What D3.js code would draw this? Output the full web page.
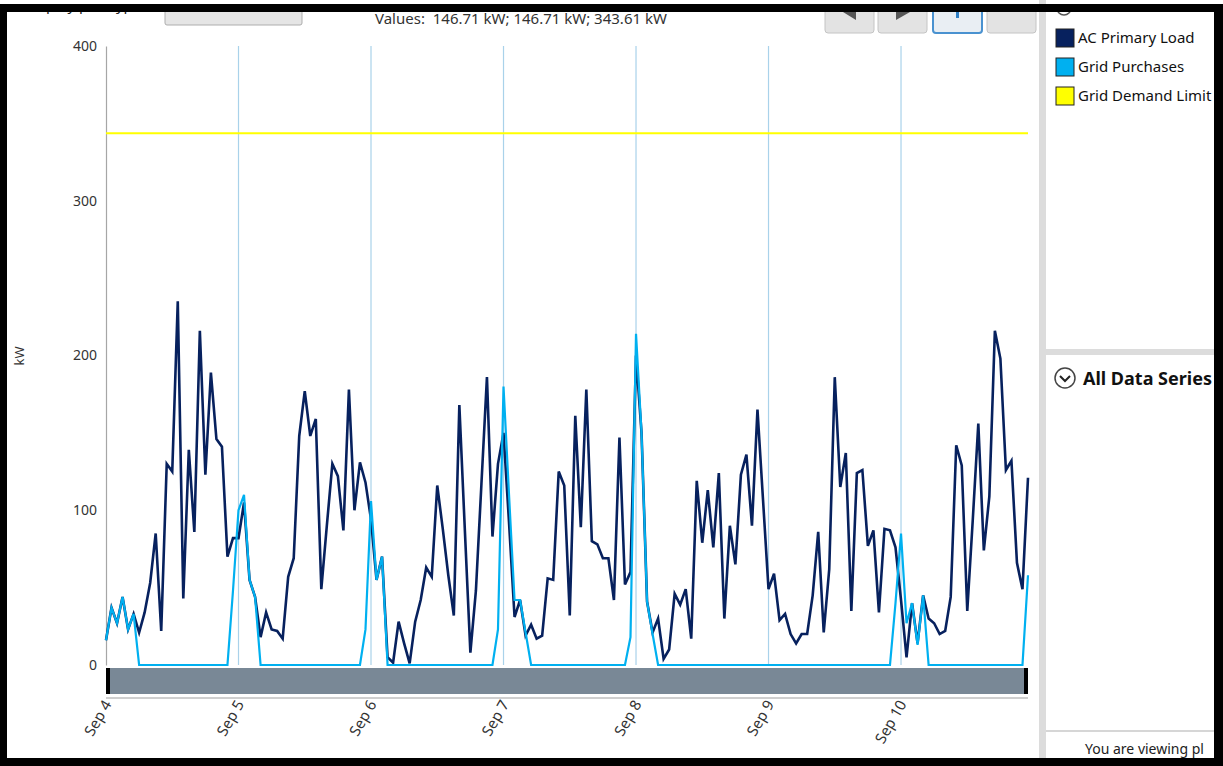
<!DOCTYPE html>
<html>
<head>
<meta charset="utf-8">
<script src="https://cdn.jsdelivr.net/npm/d3@7"></script>
<style>
  html, body { margin: 0; padding: 0; background: #fff; }
  svg { display: block; font-family: "Noto Sans", "Open Sans", sans-serif; }
</style>
</head>
<body>
<svg id="chart" width="1223" height="766"></svg>
<script>
// Hourly values (kW), Sep 4 00:00 through Sep 10 23:00
const acPrimaryLoad = [
  16, 37, 27, 44, 23, 33, 21, 34, 53, 85, 22, 130, 125, 235, 43, 139, 86, 216, 123, 189, 146, 141, 70, 82,
  82, 105, 55, 44, 18, 34, 23, 22, 17, 57, 69, 148, 177, 148, 159, 49, 90, 130, 122, 87, 178, 100, 131, 118,
  94, 55, 70, 5, 1.5, 28, 14, 1, 28, 42, 63, 57, 116, 88, 58, 32, 168, 87, 8, 48, 117, 186, 83, 130,
  150, 92, 31, 42, 19, 26, 17, 19, 56, 55, 125, 116, 32, 161, 89, 178, 80, 78, 69, 69, 42, 147, 52, 60,
  200, 150, 41, 21, 30, 4, 10, 46, 39, 49, 17, 119, 79, 113, 76, 124, 30, 90, 65, 123, 136, 90, 165, 107,
  49, 59, 29, 33, 20, 14, 20, 20, 45, 86, 21, 62, 186, 115, 137, 35, 124, 126, 77, 87, 34, 88, 87, 76,
  42, 5, 40, 14, 45, 30, 27, 20, 22, 44, 142, 129, 35, 94, 156, 74, 109, 216, 198, 126, 132, 66, 49, 121
];
const gridPurchases = [
  16, 37, 27, 44, 23, 33, 0, 0, 0, 0, 0, 0, 0, 0, 0, 0, 0, 0, 0, 0, 0, 0, 0, 48,
  100, 110, 55, 44, 0, 0, 0, 0, 0, 0, 0, 0, 0, 0, 0, 0, 0, 0, 0, 0, 0, 0, 0, 23,
  106, 55, 70, 0, 0, 0, 0, 0, 0, 0, 0, 0, 0, 0, 0, 0, 0, 0, 0, 0, 0, 0, 0, 23,
  180, 110, 42, 42, 21, 0, 0, 0, 0, 0, 0, 0, 0, 0, 0, 0, 0, 0, 0, 0, 0, 0, 0, 18,
  214, 150, 41, 20, 0, 0, 0, 0, 0, 0, 0, 0, 0, 0, 0, 0, 0, 0, 0, 0, 0, 0, 0, 0,
  0, 0, 0, 0, 0, 0, 0, 0, 0, 0, 0, 0, 0, 0, 0, 0, 0, 0, 0, 0, 0, 0, 0, 40,
  85, 27, 40, 13, 45, 0, 0, 0, 0, 0, 0, 0, 0, 0, 0, 0, 0, 0, 0, 0, 0, 0, 0, 58
];
const gridDemandLimit = 343.61;

const dayLabels = ["Sep 4", "Sep 5", "Sep 6", "Sep 7", "Sep 8", "Sep 9", "Sep 10"];
const yTicks = [0, 100, 200, 300, 400];
const seriesNames = ["AC Primary Load", "Grid Purchases", "Grid Demand Limit"];
const readoutText = "Values:  146.71 kW; 146.71 kW; 343.61 kW";

const colors = { load: "#07215e", grid: "#00b0f0", limit: "#ffff00" };

const svg = d3.select("#chart");
const W = 1223, H = 766;

svg.append("rect").attr("width", W).attr("height", H).attr("fill", "#fff");

// visible client area of the window (below the title frame)
svg.append("defs").append("clipPath").attr("id", "client")
  .append("rect").attr("x", 7).attr("y", 12).attr("width", 1207).attr("height", 746);

// ---- plot scales ----
const t0 = new Date(2019, 8, 4, 0);
const hours = acPrimaryLoad.map((_, i) => d3.timeHour.offset(t0, i));
const x = d3.scaleTime()
  .domain([hours[0], hours[hours.length - 1]])
  .range([106, 1028]);
const y = d3.scaleLinear().domain([0, 400]).range([665, 46]);
const dayTicks = d3.timeDay.range(t0, d3.timeHour.offset(hours[hours.length - 1], 1));

const plot = svg.append("g");

// day separators
plot.selectAll("line.day")
  .data(dayTicks.slice(1))
  .join("line")
  .attr("class", "day")
  .attr("x1", d => x(d)).attr("x2", d => x(d))
  .attr("y1", y(400)).attr("y2", y(0))
  .attr("stroke", "#a9d2ea").attr("stroke-width", 1.2);

// y axis
const yAxis = d3.axisLeft(y).tickValues(yTicks).tickSize(0).tickPadding(9);
const yg = plot.append("g").attr("transform", "translate(106,0)").call(yAxis);
yg.select(".domain").attr("stroke", "#a6a6a6").attr("stroke-width", 1.2);
yg.selectAll("text").attr("font-size", 14).attr("fill", "#333")
  .attr("font-family", "\"Noto Sans\", sans-serif");

svg.append("text")
  .attr("transform", "translate(24,356) rotate(-90)")
  .attr("text-anchor", "middle")
  .attr("font-size", 13).attr("fill", "#333")
  .text("kW");

// demand limit
plot.append("line")
  .attr("x1", x(hours[0])).attr("x2", x(hours[hours.length - 1]))
  .attr("y1", y(gridDemandLimit)).attr("y2", y(gridDemandLimit))
  .attr("stroke", colors.limit).attr("stroke-width", 2.2);

const line = d3.line().x((d, i) => x(hours[i])).y(d => y(d));

plot.append("path").datum(acPrimaryLoad)
  .attr("d", line).attr("fill", "none")
  .attr("stroke", colors.load).attr("stroke-width", 2.6)
  .attr("stroke-linejoin", "miter");

plot.append("path").datum(gridPurchases)
  .attr("d", line).attr("fill", "none")
  .attr("stroke", colors.grid).attr("stroke-width", 2.2)
  .attr("stroke-linejoin", "miter");

// scroll bar under the plot
svg.append("rect").attr("x", 106).attr("y", 668).attr("width", 922).attr("height", 26).attr("fill", "#798896");
svg.append("rect").attr("x", 106).attr("y", 668).attr("width", 4).attr("height", 26).attr("fill", "#000");
svg.append("rect").attr("x", 1024).attr("y", 668).attr("width", 4).attr("height", 26).attr("fill", "#000");
svg.append("line").attr("x1", 106).attr("x2", 1028).attr("y1", 698).attr("y2", 698)
  .attr("stroke", "#cfcfcf").attr("stroke-width", 2);

// day labels
svg.selectAll("text.day")
  .data(dayTicks)
  .join("text")
  .attr("class", "day")
  .attr("transform", d => `translate(${x(d) + 6},704) rotate(-60)`)
  .attr("text-anchor", "end")
  .attr("font-size", 15).attr("fill", "#333")
  .text((d, i) => dayLabels[i]);

// ---- top toolbar (scrolled partly under the frame) ----
const toolbar = svg.append("g").attr("clip-path", "url(#client)");
toolbar.append("text").attr("x", 24).attr("y", 10).attr("font-size", 15).attr("fill", "#222")
  .text("Display plot type:");
toolbar.append("rect").attr("x", 165).attr("y", -8).attr("width", 137).attr("height", 33).attr("rx", 2)
  .attr("fill", "#e5e5e5").attr("stroke", "#adadad");
toolbar.append("text").attr("x", 375).attr("y", 24).attr("font-size", 15).attr("fill", "#333")
  .style("white-space", "pre")
  .text(readoutText);

const btnX = [825, 878, 933, 987];
btnX.forEach((bx, i) => {
  toolbar.append("rect").attr("x", bx).attr("y", -10).attr("width", 49).attr("height", 43).attr("rx", 3)
    .attr("fill", i === 2 ? "#e9eef3" : "#e3e3e3")
    .attr("stroke", i === 2 ? "#4a92d0" : "#c4c4c4").attr("stroke-width", i === 2 ? 2 : 1);
});
toolbar.append("path").attr("d", "M843,12 L856,12 L856,20 Z").attr("fill", "#555");
toolbar.append("path").attr("d", "M896,12 L910,12 L896,20 Z").attr("fill", "#555");
toolbar.append("rect").attr("x", 956).attr("y", 10).attr("width", 3).attr("height", 8).attr("fill", "#2f7fc4");

// ---- side panel ----
svg.append("rect").attr("x", 1039).attr("y", 0).attr("width", 7).attr("height", H).attr("fill", "#dcdcdc");
svg.append("rect").attr("x", 1046).attr("y", 349).attr("width", 170).attr("height", 6).attr("fill", "#dcdcdc");
svg.append("line").attr("x1", 1046).attr("x2", 1216).attr("y1", 731).attr("y2", 731)
  .attr("stroke", "#c8c8c8").attr("stroke-width", 1.5);
toolbar.append("circle").attr("cx", 1064).attr("cy", 8).attr("r", 7)
  .attr("fill", "none").attr("stroke", "#555").attr("stroke-width", 1.5);

const legendColors = [colors.load, colors.grid, colors.limit];
const leg = svg.append("g");
seriesNames.forEach((name, i) => {
  const ly = 29 + i * 29;
  leg.append("rect").attr("x", 1056).attr("y", ly).attr("width", 18).attr("height", 18)
    .attr("fill", legendColors[i]).attr("stroke", "#222").attr("stroke-width", 1);
  leg.append("text").attr("x", 1078).attr("y", ly + 14).attr("font-size", 15).attr("fill", "#111")
    .text(name);
});

svg.append("circle").attr("cx", 1065).attr("cy", 378).attr("r", 10)
  .attr("fill", "#fff").attr("stroke", "#444").attr("stroke-width", 1.5);
svg.append("path").attr("d", "M1060,376 L1065,381 L1070,376").attr("fill", "none")
  .attr("stroke", "#222").attr("stroke-width", 2);
svg.append("text").attr("x", 1083).attr("y", 385).attr("font-size", 18).attr("font-weight", "bold")
  .attr("fill", "#111").text("All Data Series");

svg.append("text").attr("x", 1085).attr("y", 754).attr("font-size", 14).attr("fill", "#222")
  .text("You are viewing pl");

// ---- window frame ----
svg.append("rect").attr("x", 0).attr("y", 4).attr("width", W).attr("height", 8).attr("fill", "#000");
svg.append("rect").attr("x", 0).attr("y", 4).attr("width", 7).attr("height", H).attr("fill", "#000");
svg.append("rect").attr("x", 1214).attr("y", 4).attr("width", 9).attr("height", H).attr("fill", "#000");
svg.append("rect").attr("x", 0).attr("y", 758).attr("width", W).attr("height", 8).attr("fill", "#000");
</script>
</body>
</html>
